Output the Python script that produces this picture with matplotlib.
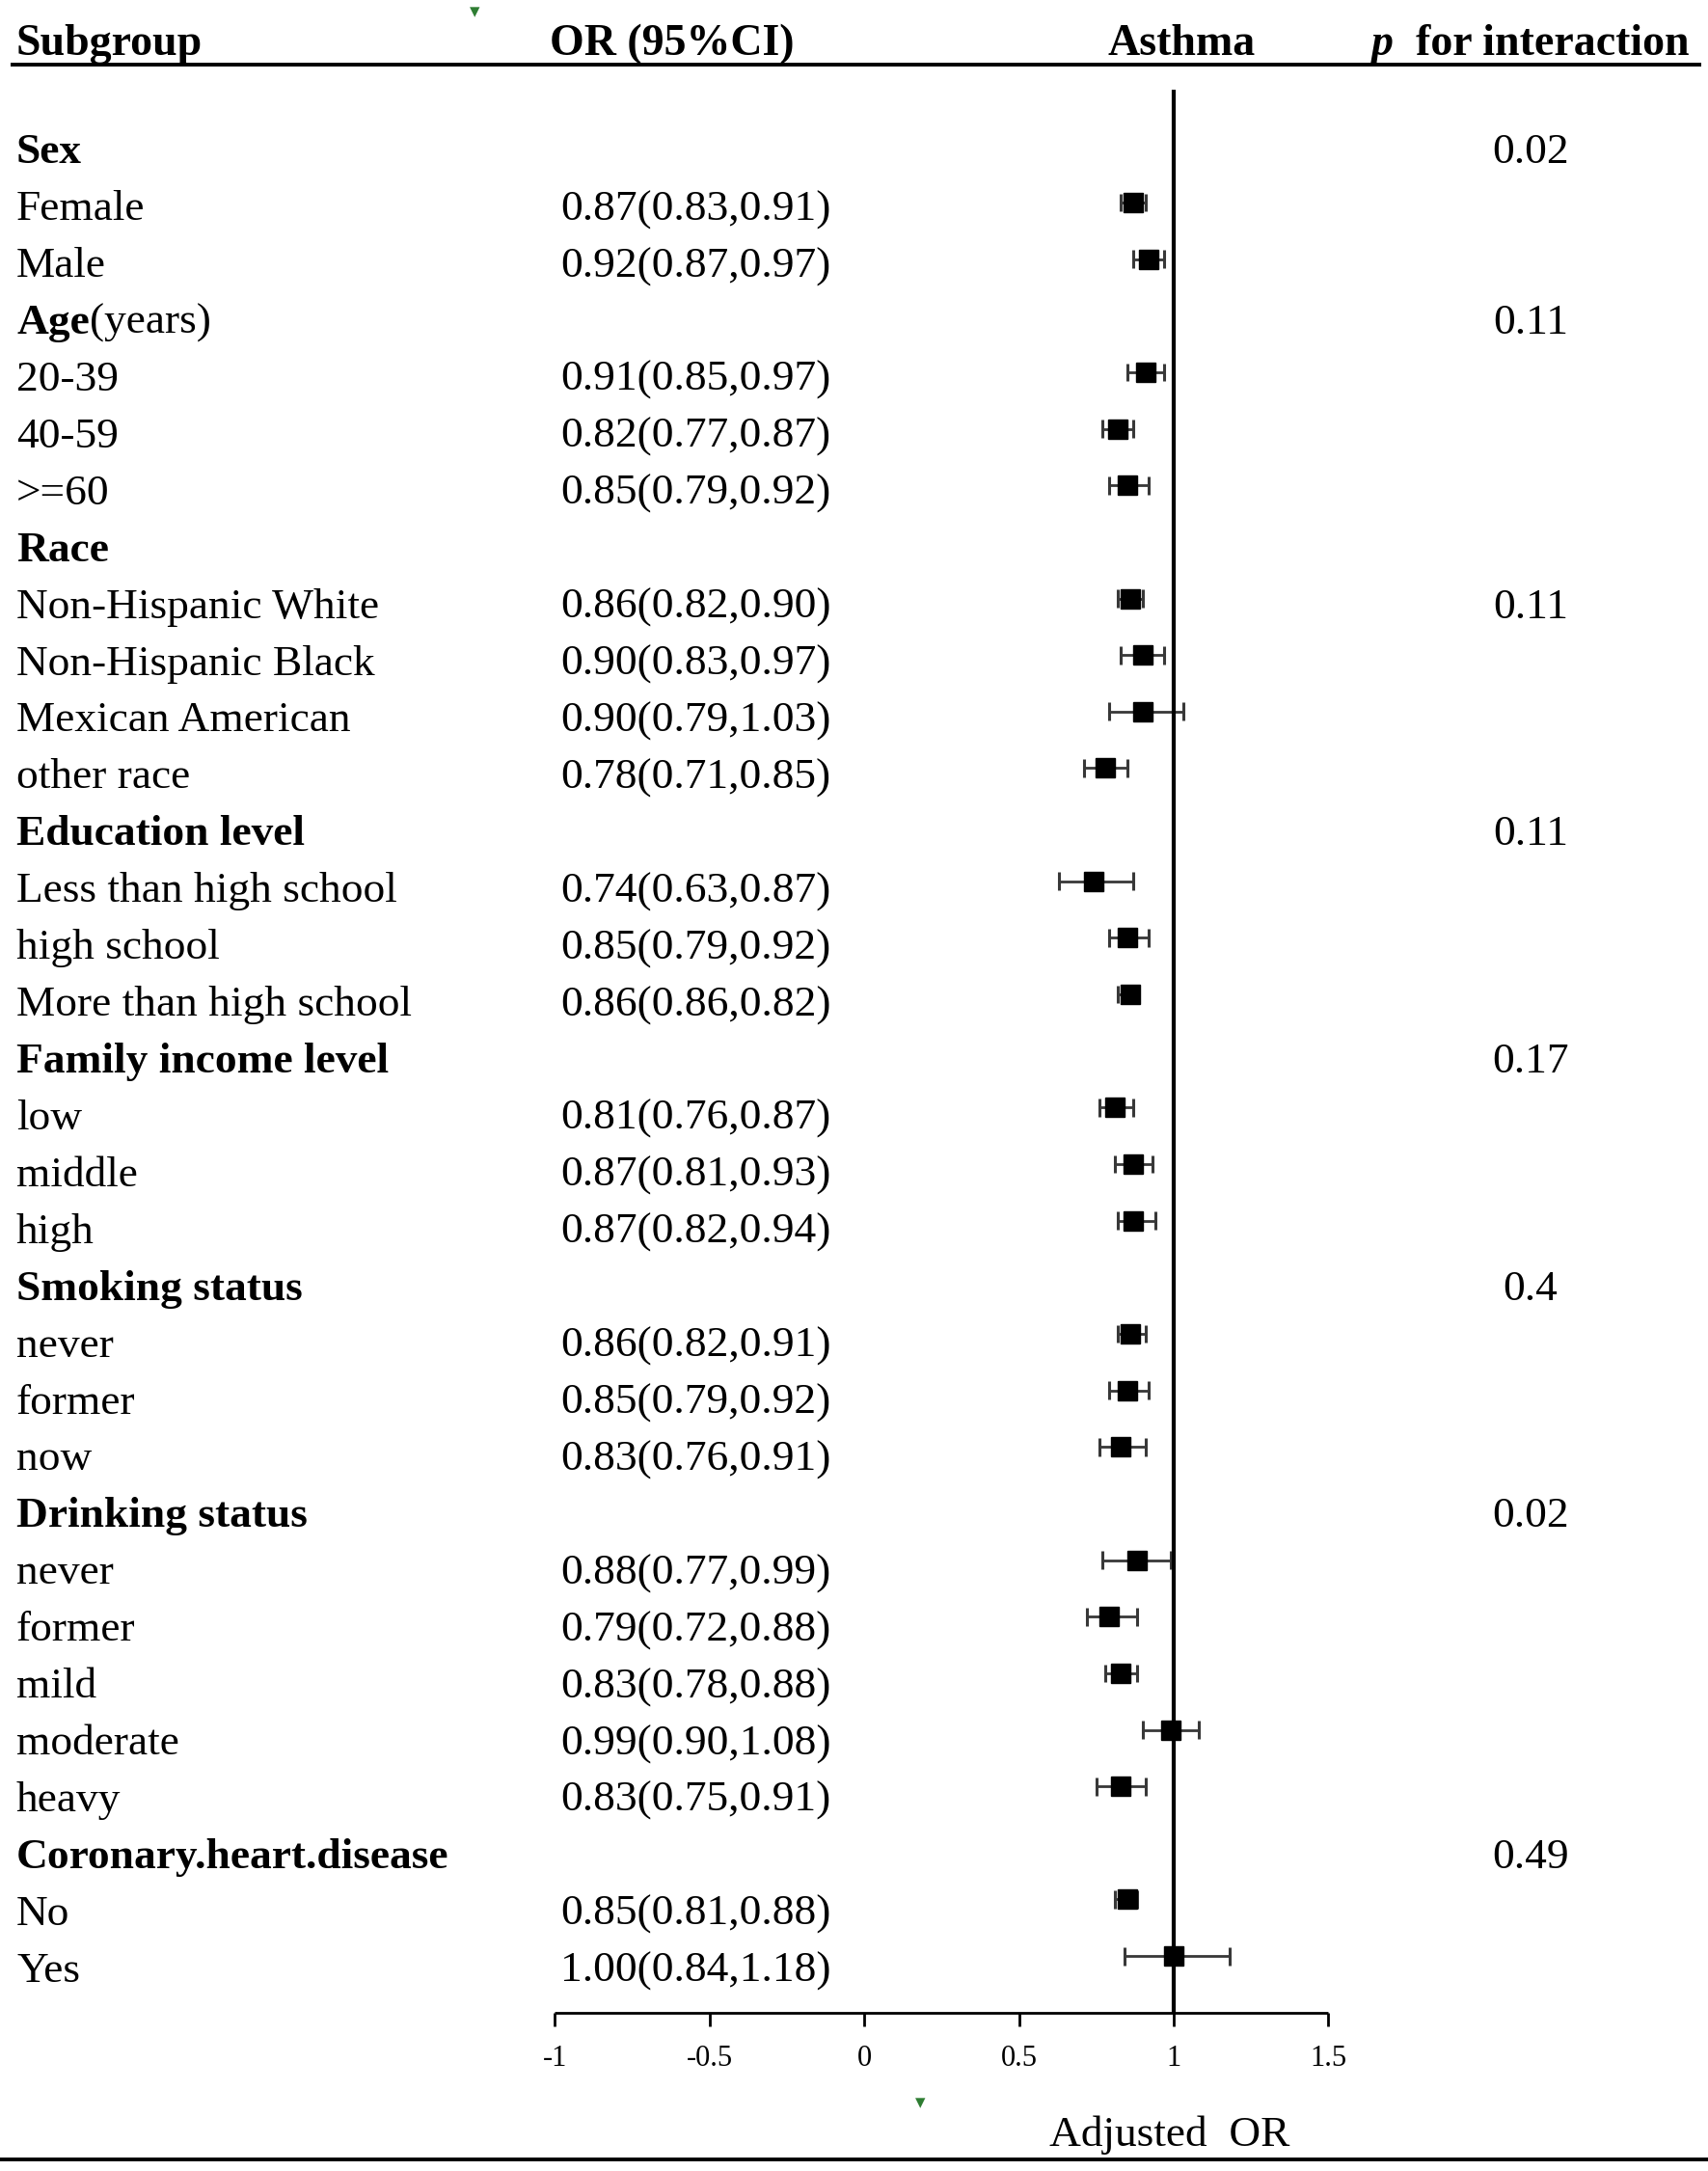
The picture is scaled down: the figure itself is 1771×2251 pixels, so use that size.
import matplotlib.pyplot as plt

# -----------------------------------------------------------------------------
# Data
# -----------------------------------------------------------------------------
groups = ["Sex", "Age", "Race", "Education level", "Family income level",
          "Smoking status", "Drinking status", "Coronary.heart.disease"]
group_suffix = ["", "(years)", "", "", "", "", "", ""]
group_sizes = [2, 3, 4, 3, 3, 3, 5, 2]

subgroups = ["Female", "Male",
             "20-39", "40-59", ">=60",
             "Non-Hispanic White", "Non-Hispanic Black", "Mexican American", "other race",
             "Less than high school", "high school", "More than high school",
             "low", "middle", "high",
             "never", "former", "now",
             "never", "former", "mild", "moderate", "heavy",
             "No", "Yes"]
or_est = [0.87, 0.92,
          0.91, 0.82, 0.85,
          0.86, 0.90, 0.90, 0.78,
          0.74, 0.85, 0.86,
          0.81, 0.87, 0.87,
          0.86, 0.85, 0.83,
          0.88, 0.79, 0.83, 0.99, 0.83,
          0.85, 1.00]
ci_low = [0.83, 0.87,
          0.85, 0.77, 0.79,
          0.82, 0.83, 0.79, 0.71,
          0.63, 0.79, 0.86,
          0.76, 0.81, 0.82,
          0.82, 0.79, 0.76,
          0.77, 0.72, 0.78, 0.90, 0.75,
          0.81, 0.84]
ci_high = [0.91, 0.97,
           0.97, 0.87, 0.92,
           0.90, 0.97, 1.03, 0.85,
           0.87, 0.92, 0.82,
           0.87, 0.93, 0.94,
           0.91, 0.92, 0.91,
           0.99, 0.88, 0.88, 1.08, 0.91,
           0.88, 1.18]

p_interaction = ["0.02", "0.11", "0.11", "0.11", "0.17", "0.4", "0.02", "0.49"]
p_row_shift = [0, 0, 1, 0, 0, 0, 0, 0]   # Race value sits on its first subgroup row

x_ticks = [-1, -0.5, 0, 0.5, 1, 1.5]
x_ticklabels = ["-1", "-0.5", "0", "0.5", "1", "1.5"]

# -----------------------------------------------------------------------------
# Style / layout
# -----------------------------------------------------------------------------
W_PX, H_PX, DPI = 1771, 2251, 100
PX_PER_UNIT = 320.8          # horizontal pixels per OR unit
X_MINUS1_PX = 575.4          # pixel position of OR = -1
ROW0_PX, ROW_STEP = 151.35, 58.65      # marker rows
TEXT0_PX, TEXT_STEP = 154.5, 58.92     # text rows drift slightly from marker rows

FS = 32.7
FS_HEAD = 33
CAP = 14.8                   # half cap height, pixels
CI_COLOUR = "#383838"

plt.rcParams["font.family"] = ["Liberation Serif", "DejaVu Serif"]


def fx(px):
    """figure pixel -> axes fraction (x)"""
    return px / W_PX


def ry(px):
    """figure pixel -> row coordinate (y)"""
    return (px - ROW0_PX) / ROW_STEP


def text_base(row):
    """baseline (row coords) for text centred on a table row"""
    return ry(TEXT0_PX + TEXT_STEP * row + CAP)


# build row indices
header_rows, sub_rows = [], []
r = 0
for n in group_sizes:
    header_rows.append(r)
    sub_rows.extend(range(r + 1, r + 1 + n))
    r += n + 1

fig = plt.figure(figsize=(W_PX / DPI, H_PX / DPI), dpi=DPI)
ax = fig.add_axes([0, 0, 1, 1])
ax.set_xlim(-1 - X_MINUS1_PX / PX_PER_UNIT, -1 + (W_PX - X_MINUS1_PX) / PX_PER_UNIT)
ax.set_ylim(ry(H_PX), ry(0))
ax.axis("off")
trans = ax.get_yaxis_transform()

# -----------------------------------------------------------------------------
# Header
# -----------------------------------------------------------------------------
hy = ry(57)
ax.text(fx(17), hy, "Subgroup", transform=trans, fontsize=FS_HEAD, fontweight="bold", va="baseline")
ax.text(fx(570), hy, "OR (95%CI)", transform=trans, fontsize=FS_HEAD, fontweight="bold", va="baseline")
ax.text(fx(1225), hy, "Asthma", transform=trans, fontsize=FS_HEAD, fontweight="bold",
        va="baseline", ha="center")
ax.text(fx(1421), hy, "p", transform=trans, fontsize=FS_HEAD, fontweight="bold",
        fontstyle="italic", va="baseline")
ax.text(fx(1752), hy, "for interaction", transform=trans, fontsize=FS_HEAD, fontweight="bold",
        va="baseline", ha="right")
ax.plot([fx(11), fx(1764)], [ry(67), ry(67)], transform=trans, color="black", lw=2.8,
        solid_capstyle="butt")

# -----------------------------------------------------------------------------
# Left columns
# -----------------------------------------------------------------------------
for g, name in enumerate(groups):
    y = header_rows[g]
    t = ax.text(fx(17), text_base(y), name, transform=trans, fontsize=FS, fontweight="bold",
                va="baseline")
    if group_suffix[g]:
        ax.annotate(group_suffix[g], xy=(1, 0), xycoords=t, fontsize=FS, va="bottom")
    ax.text(fx(1587), text_base(y + p_row_shift[g]), p_interaction[g],
            transform=trans, fontsize=FS, ha="center", va="baseline")

for i, y in enumerate(sub_rows):
    ax.text(fx(17), text_base(y), subgroups[i], transform=trans, fontsize=FS, va="baseline")
    ax.text(fx(581), text_base(y), f"{or_est[i]:.2f}({ci_low[i]:.2f},{ci_high[i]:.2f})",
            transform=trans, fontsize=FS, va="baseline")

# -----------------------------------------------------------------------------
# Forest part
# -----------------------------------------------------------------------------
axis_y = ry(2087)
lo = [min(a, b) for a, b in zip(ci_low, ci_high)]
hi = [max(a, b) for a, b in zip(ci_low, ci_high)]
cap = 0.16
ax.hlines(sub_rows, lo, hi, color=CI_COLOUR, lw=2.0, zorder=2)
ax.vlines(lo, [y - cap for y in sub_rows], [y + cap for y in sub_rows], color=CI_COLOUR, lw=2.2, zorder=2)
ax.vlines(hi, [y - cap for y in sub_rows], [y + cap for y in sub_rows], color=CI_COLOUR, lw=2.2, zorder=2)
ax.plot(or_est, sub_rows, "s", ms=15, color="black", zorder=4)

ax.vlines(1, ry(93), axis_y, color="black", lw=3.0, zorder=3)

ax.hlines(axis_y, x_ticks[0], x_ticks[-1], color="black", lw=2.0)
ax.vlines(x_ticks, axis_y, ry(2101), color="black", lw=2.0)
for xt, lab in zip(x_ticks, x_ticklabels):
    ax.text(xt, ry(2142), lab, fontsize=22, ha="center", va="baseline")

ax.text(fx(1213), ry(2225), "Adjusted  OR", transform=trans, fontsize=FS,
        ha="center", va="baseline")
ax.plot([0, 1], [ry(2239), ry(2239)], transform=trans, color="black", lw=2.8,
        solid_capstyle="butt")

# small green specks present in the original image
fig.text(fx(492), 1 - 12 / H_PX, "\u25BE", color="#2e7d32", fontsize=15,
         ha="center", va="center", family="DejaVu Sans")
fig.text(fx(954), 1 - 2180 / H_PX, "\u25BE", color="#2e7d32", fontsize=15,
         ha="center", va="center", family="DejaVu Sans")

fig.savefig("out.png", dpi=DPI)
